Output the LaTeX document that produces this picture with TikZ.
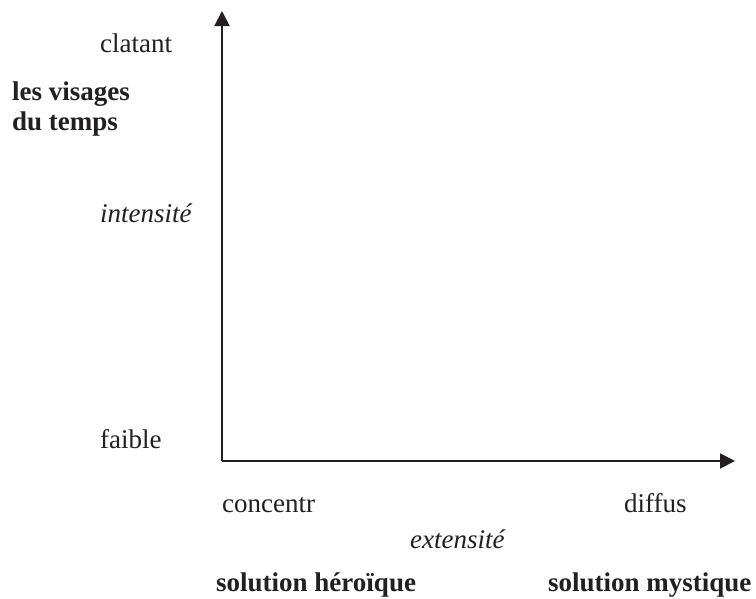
\documentclass[tikz,border=0pt]{standalone}
\usepackage{fontspec}
\setmainfont{Liberation Serif}
\usetikzlibrary{arrows.meta}
\definecolor{ink}{HTML}{231F20}
\begin{document}
\begin{tikzpicture}[x=1pt,y=-1pt,
  lbl/.style={inner sep=0pt,text=ink,font=\fontsize{27}{32}\selectfont,anchor=base west},
  axis/.style={draw=ink,line width=1.9pt,-{Triangle[length=15pt,width=15pt]}}]
\useasboundingbox (0,0) rectangle (756,598);
\coordinate (o) at (222,461);
\coordinate (ytip) at (222,11);
\coordinate (xtip) at (735,461);
\draw[axis] (o) -- (ytip);
\draw[axis] (o) -- (xtip);
\node[lbl] (clat) at (100,52) {clatant};
\node[lbl,font=\fontsize{27}{32}\selectfont\bfseries] (vis) at (12,100) {les visages};
\node[lbl,font=\fontsize{27}{32}\selectfont\bfseries] (temps) at (12,130) {du temps};
\node[lbl,font=\fontsize{27}{32}\selectfont\itshape] (int) at (100,222) {intensité};
\node[lbl] (faible) at (100,448) {faible};
\node[lbl] (conc) at (222,512) {concentr};
\node[lbl] (diff) at (624,512) {diffus};
\node[lbl,font=\fontsize{27}{32}\selectfont\itshape] (ext) at (410,548) {extensité};
\node[lbl,font=\fontsize{27}{32}\selectfont\bfseries] (hero) at (216,591) {solution héroïque};
\node[lbl,font=\fontsize{27}{32}\selectfont\bfseries] (myst) at (548,591) {solution mystique};
\end{tikzpicture}
\end{document}
